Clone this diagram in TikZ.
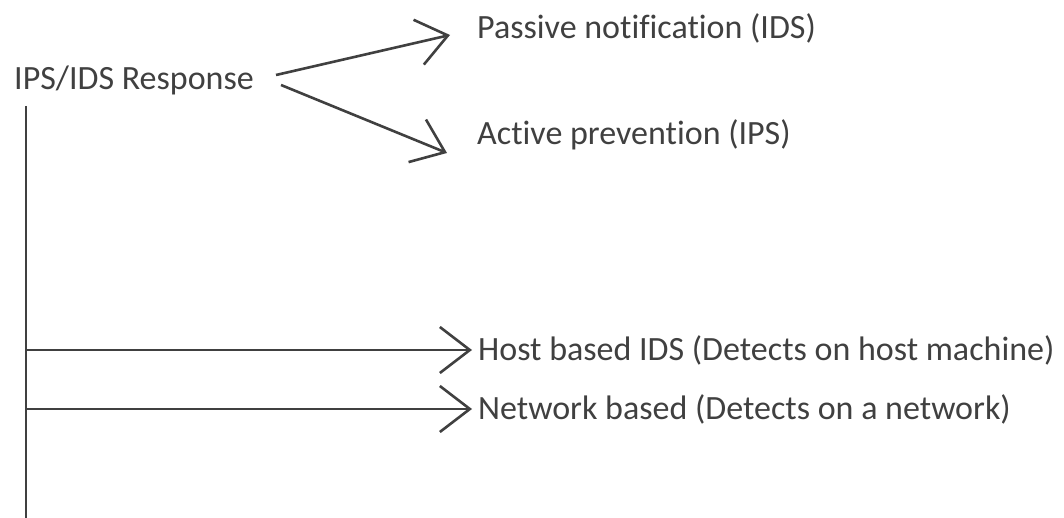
\documentclass[tikz,border=0pt]{standalone}
\usepackage{fontspec}
\setmainfont[Ligatures=NoCommon]{Carlito}
\usetikzlibrary{arrows.meta}
\definecolor{ink}{HTML}{404040}
\begin{document}
\begin{tikzpicture}[x=1pt,y=-1pt,
  lbl/.style={anchor=west,inner sep=0pt,text=ink,font=\fontsize{34}{40}\selectfont},
  conn/.style={draw=ink,line width=2.6pt,-{Straight Barb[length=30pt,width=46pt,line width=2.6pt]}},
  trunk/.style={draw=ink,line width=2.6pt}]
\useasboundingbox (0,0) rectangle (1064,518);
\node[lbl] (root) at (14,80) {IPS/IDS Response};
\node[lbl] (passive) at (477,28) {Passive notification (IDS)};
\node[lbl] (active) at (477,135) {Active prevention (IPS)};
\node[lbl] (host) at (478,350) {Host based IDS (Detects on host machine)};
\node[lbl] (net) at (478,409) {Network based (Detects on a network)};
\coordinate (ttop) at (26,106);
\coordinate (tbot) at (26,518);
\coordinate (thost) at (26,350);
\coordinate (tnet) at (26,409);
\draw[trunk] (ttop) -- (tbot);
\draw[conn] ([xshift=22pt,yshift=5pt]root.east) -- ([xshift=-27pt,yshift=-7pt]passive.west);
\draw[conn] ([xshift=27pt,yshift=-5pt]root.east) -- ([xshift=-30pt,yshift=-18pt]active.west);
\draw[conn] (thost) -- ([xshift=-6pt]host.west);
\draw[conn] (tnet) -- ([xshift=-6pt]net.west);
\end{tikzpicture}
\end{document}
